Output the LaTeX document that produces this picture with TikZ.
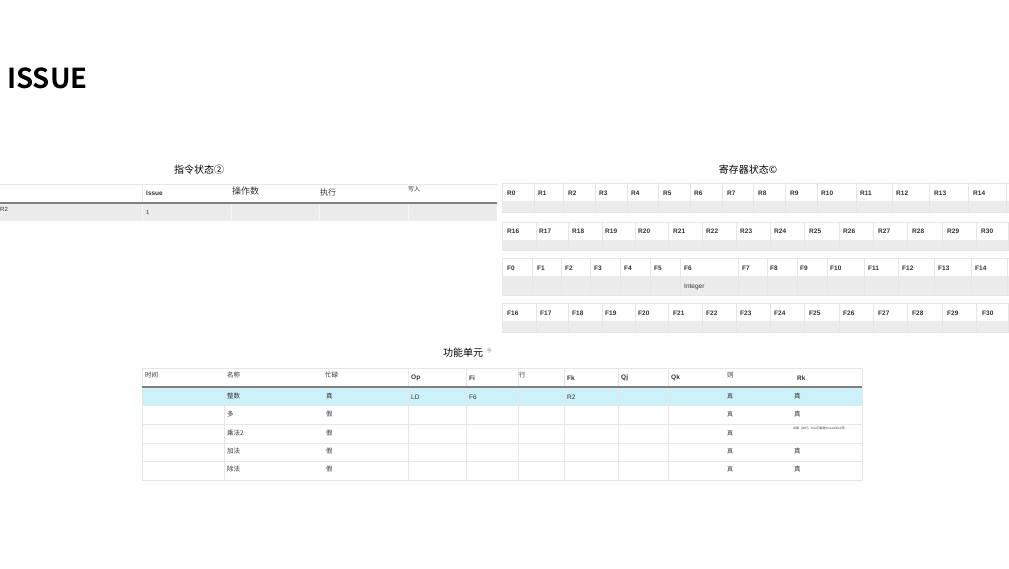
\documentclass[tikz,border=0pt]{standalone}
\usepackage{fontspec}
\setmainfont{Liberation Sans}
\newfontfamily\cjk{Noto Sans CJK SC}[BoldFont={Noto Sans CJK SC Bold}]
\definecolor{txtgray}{HTML}{333333}
\definecolor{rowgray}{HTML}{ECECEC}
\definecolor{cellline}{HTML}{E6E6E6}
\definecolor{headline}{HTML}{808080}
\definecolor{busyrow}{HTML}{CDF1F8}

\begin{document}
\begin{tikzpicture}[x=1pt,y=-1pt,
    title/.style={anchor=center,inner sep=0pt,font=\cjk\fontsize{10}{10}\selectfont},
    reglabel/.style={anchor=west,inner sep=0pt,text=txtgray,font=\fontsize{6.5}{6.5}\selectfont\bfseries},
    celltxt/.style={anchor=west,inner sep=0pt,text=txtgray,font=\cjk\fontsize{6.5}{6.5}\selectfont},
    headtxt/.style={anchor=west,inner sep=0pt,text=txtgray,font=\fontsize{6.5}{6.5}\selectfont\bfseries},
    grid/.style={draw=cellline,line width=0.6pt}]
  \useasboundingbox[fill=white] (0,0) rectangle (1009,569);

  % heading
  \node[anchor=west,inner sep=0pt,font=\cjk\fontsize{27.5}{27.5}\selectfont\bfseries] (heading) at (7,78) {ISSUE};

  % instruction status
  \node[title] (instr-title) at (199,170) {指令状态②};
  \draw[grid] (0,184) -- (497,184);
  \fill[rowgray] (0,204) rectangle (497,221);
  \foreach \s in {142,231,319,408}
    \draw[draw=white!60!rowgray,line width=0.6pt] (\s,204) -- (\s,221);
  \draw[grid] (142,184) -- (142,203);
  \draw[headline,line width=1.5pt] (0,203) -- (497,203);
  \draw[white,line width=0.8pt] (231,201.6) -- (268,201.6);
  \node[headtxt] (instr-issue) at (146,193) {Issue};
  \node[celltxt,font=\cjk\fontsize{9}{9}\selectfont] (instr-op) at (232,191) {操作数};
  \node[celltxt,font=\cjk\fontsize{8}{8}\selectfont] (instr-exe) at (320,192) {执行};
  \node[celltxt,font=\cjk\fontsize{6}{6}\selectfont] (instr-wr) at (408,189) {写入};
  \node[celltxt,font=\fontsize{6}{6}\selectfont] (instr-r2) at (0,209) {R2};
  \node[celltxt,font=\fontsize{6}{6}\selectfont] (instr-one) at (146,212) {1};

  % register status
  \node[title] (reg-title) at (748,170) {寄存器状态©};
  % row R0 .. R14
  \fill[rowgray] (502,201) rectangle (1009,212);
  \draw[grid] (1009,183) -- (502,183) -- (502,212) -- (1009,212);
  \foreach \s in {534,563,595,627,658,690,722,753,785,817,856,892,929,968,1006}
    \draw[grid] (\s,183) -- (\s,212);
  \foreach \x/\n in {507/R0,538/R1,568/R2,599/R3,631/R4,663/R5,694/R6,727/R7,758/R8,790/R9,821/R10,860/R11,896/R12,934/R13,973/R14}
    \node[reglabel] (reg-\n) at (\x,193) {\n};
  % row R16 .. R30
  \fill[rowgray] (502,240) rectangle (1009,250);
  \draw[grid] (1009,222) -- (502,222) -- (502,250) -- (1009,250);
  \foreach \s in {536,568,602,635,668,702,736,770,804,839,873,907,942,976,1008}
    \draw[grid] (\s,222) -- (\s,250);
  \foreach \x/\n in {507/R16,539/R17,572/R18,605/R19,638/R20,673/R21,706/R22,740/R23,774/R24,809/R25,843/R26,878/R27,912/R28,947/R29,981/R30}
    \node[reglabel] (reg-\n) at (\x,231) {\n};
  % row F0 .. F14
  \fill[rowgray] (502,276) rectangle (1009,295);
  \draw[grid] (1009,258) -- (502,258) -- (502,295) -- (1009,295);
  \foreach \s in {532,561,590,620,650,680,738,767,797,827,864,898,934,971,1007}
    \draw[grid] (\s,258) -- (\s,295);
  \foreach \x/\n in {507/F0,537/F1,565/F2,594/F3,624/F4,654/F5,684/F6,742/F7,770/F8,800/F9,830/F10,868/F11,902/F12,938/F13,975/F14}
    \node[reglabel] (reg-\n) at (\x,268) {\n};
  \node[celltxt,font=\fontsize{6.5}{6.5}\selectfont] (reg-int) at (684,287) {Integer};
  % row F16 .. F30
  \fill[rowgray] (502,321) rectangle (1009,332);
  \draw[grid] (1009,303) -- (502,303) -- (502,332) -- (1009,332);
  \foreach \s in {536,568,602,635,668,702,736,770,804,839,873,907,942,976,1008}
    \draw[grid] (\s,303) -- (\s,332);
  \foreach \x/\n in {507/F16,540/F17,572/F18,605/F19,638/F20,673/F21,706/F22,740/F23,774/F24,809/F25,843/F26,878/F27,912/F28,947/F29,982/F30}
    \node[reglabel] (reg-\n) at (\x,313) {\n};

  % functional units
  \node[title,anchor=west] (fu-title) at (443,353) {功能单元};
  \node[anchor=west,inner sep=0pt,text=black!55,font=\cjk\fontsize{5}{5}\selectfont] (fu-info) at (fu-title.east) [xshift=3pt,yshift=2pt] {⑩};
  \fill[busyrow] (142,388) rectangle (862,405);
  \draw[grid] (142,368) rectangle (862,480);
  \foreach \y in {405,424,443,461}
    \draw[grid] (142,\y) -- (862,\y);
  \draw[grid] (224,388) -- (224,480);
  \foreach \s in {408,466,518,564,618,668}
    \draw[grid] (\s,368) -- (\s,480);
  \draw[headline,line width=1.5pt] (142,387) -- (862,387);
  % header
  \foreach \x/\t/\n in {145/时间/time,227/名称/name,325/忙碌/busy,519/行/row,727/则/then}
    \node[celltxt] (fu-\n) at (\x,375) {\t};
  \foreach \x/\t in {411/Op,469/Fi,567/Fk,621/Qj,671/Qk,797/Rk}
    \node[headtxt] (fu-\t) at (\x,378) {\t};
  % rows
  \foreach \y/\t/\b/\n in {396/整数/真/int,414/多/假/mul,433/乘法2/假/mul2,451/加法/假/add,469/除法/假/div}{
    \node[celltxt] (fu-\n-name) at (227,\y) {\t};
    \node[celltxt] (fu-\n-busy) at (326,\y) {\b};
    \node[celltxt,font=\cjk\fontsize{6}{6}\selectfont] (fu-\n-then) at (727,\y) {真};
  }
  \foreach \y/\n in {396/int,414/mul,451/add,469/div}
    \node[celltxt] (fu-\n-rk) at (794,\y) {真};
  \node[celltxt,font=\cjk\fontsize{3}{3}\selectfont] (fu-mul2-rk) at (793,428) {出错（执行，true可能是trueorfalse吗）};
  \node[celltxt,font=\fontsize{6.5}{6.5}\selectfont] (fu-int-op) at (411,397) {LD};
  \node[celltxt,font=\fontsize{6.5}{6.5}\selectfont] (fu-int-fi) at (469,397) {F6};
  \node[celltxt,font=\fontsize{6.5}{6.5}\selectfont] (fu-int-fk) at (567,397) {R2};
\end{tikzpicture}
\end{document}
